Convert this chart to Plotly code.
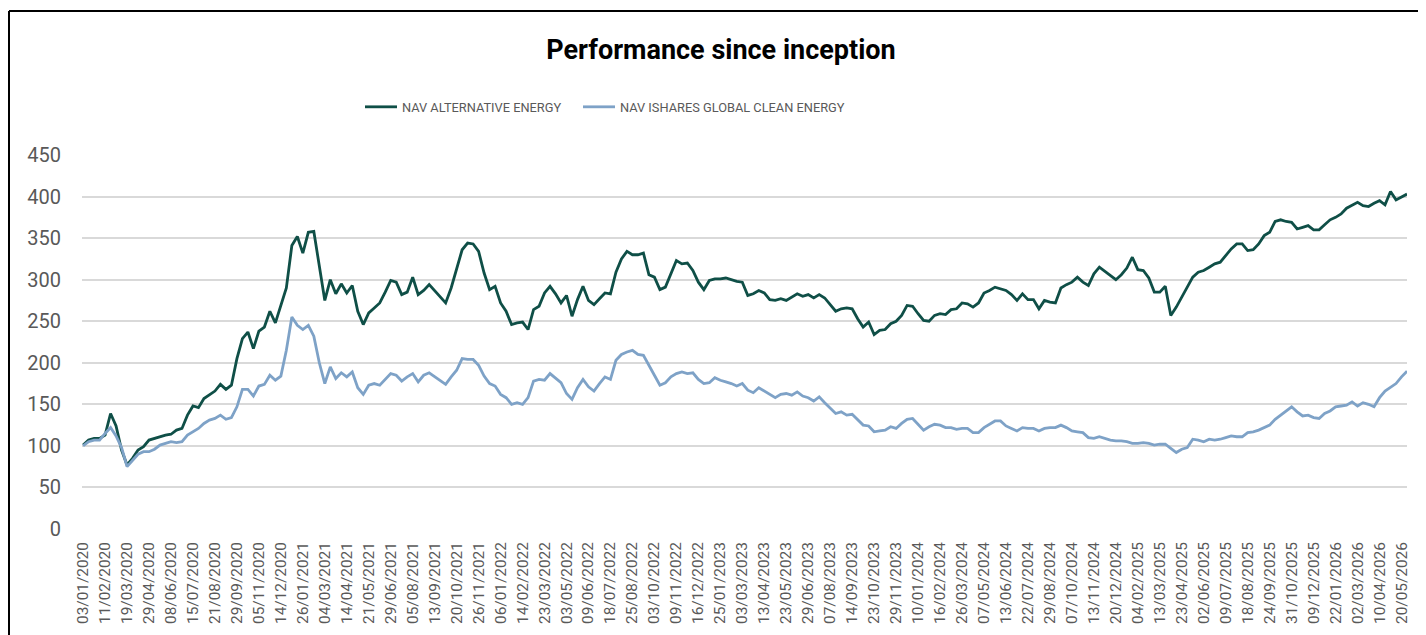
import plotly.graph_objects as go

# Observation dates (dd/mm/yyyy), roughly weekly-spaced sampling of the NAV series
dates = [
    "03/01/2020", "13/01/2020", "22/01/2020", "31/01/2020",
    "11/02/2020", "20/02/2020", "28/02/2020", "10/03/2020",
    "19/03/2020", "30/03/2020", "08/04/2020", "20/04/2020",
    "29/04/2020", "11/05/2020", "19/05/2020", "29/05/2020",
    "08/06/2020", "17/06/2020", "26/06/2020", "06/07/2020",
    "15/07/2020", "24/07/2020", "03/08/2020", "12/08/2020",
    "21/08/2020", "31/08/2020", "10/09/2020", "21/09/2020",
    "29/09/2020", "08/10/2020", "16/10/2020", "27/10/2020",
    "05/11/2020", "16/11/2020", "25/11/2020", "04/12/2020",
    "14/12/2020", "24/12/2020", "05/01/2021", "15/01/2021",
    "26/01/2021", "04/02/2021", "12/02/2021", "23/02/2021",
    "04/03/2021", "15/03/2021", "24/03/2021", "06/04/2021",
    "14/04/2021", "23/04/2021", "03/05/2021", "12/05/2021",
    "21/05/2021", "31/05/2021", "10/06/2021", "18/06/2021",
    "29/06/2021", "08/07/2021", "16/07/2021", "27/07/2021",
    "05/08/2021", "16/08/2021", "25/08/2021", "03/09/2021",
    "13/09/2021", "22/09/2021", "01/10/2021", "11/10/2021",
    "20/10/2021", "29/10/2021", "08/11/2021", "17/11/2021",
    "26/11/2021", "06/12/2021", "16/12/2021", "27/12/2021",
    "06/01/2022", "17/01/2022", "26/01/2022", "04/02/2022",
    "14/02/2022", "23/02/2022", "04/03/2022", "14/03/2022",
    "23/03/2022", "01/04/2022", "12/04/2022", "22/04/2022",
    "03/05/2022", "12/05/2022", "20/05/2022", "31/05/2022",
    "09/06/2022", "20/06/2022", "29/06/2022", "08/07/2022",
    "18/07/2022", "27/07/2022", "05/08/2022", "15/08/2022",
    "25/08/2022", "05/09/2022", "14/09/2022", "23/09/2022",
    "03/10/2022", "12/10/2022", "21/10/2022", "31/10/2022",
    "09/11/2022", "18/11/2022", "28/11/2022", "07/12/2022",
    "16/12/2022", "27/12/2022", "05/01/2023", "16/01/2023",
    "25/01/2023", "03/02/2023", "13/02/2023", "22/02/2023",
    "03/03/2023", "13/03/2023", "23/03/2023", "03/04/2023",
    "13/04/2023", "24/04/2023", "03/05/2023", "12/05/2023",
    "23/05/2023", "01/06/2023", "09/06/2023", "20/06/2023",
    "29/06/2023", "10/07/2023", "19/07/2023", "28/07/2023",
    "07/08/2023", "16/08/2023", "25/08/2023", "04/09/2023",
    "14/09/2023", "25/09/2023", "04/10/2023", "13/10/2023",
    "23/10/2023", "01/11/2023", "10/11/2023", "20/11/2023",
    "29/11/2023", "08/12/2023", "20/12/2023", "29/12/2023",
    "10/01/2024", "19/01/2024", "29/01/2024", "07/02/2024",
    "16/02/2024", "26/02/2024", "07/03/2024", "15/03/2024",
    "26/03/2024", "05/04/2024", "16/04/2024", "26/04/2024",
    "07/05/2024", "16/05/2024", "24/05/2024", "04/06/2024",
    "13/06/2024", "24/06/2024", "03/07/2024", "12/07/2024",
    "22/07/2024", "31/07/2024", "09/08/2024", "19/08/2024",
    "29/08/2024", "09/09/2024", "18/09/2024", "27/09/2024",
    "07/10/2024", "16/10/2024", "25/10/2024", "04/11/2024",
    "13/11/2024", "22/11/2024", "02/12/2024", "11/12/2024",
    "20/12/2024", "31/12/2024", "13/01/2025", "23/01/2025",
    "04/02/2025", "13/02/2025", "21/02/2025", "04/03/2025",
    "13/03/2025", "24/03/2025", "02/04/2025", "14/04/2025",
    "23/04/2025", "02/05/2025", "13/05/2025", "23/05/2025",
    "02/06/2025", "11/06/2025", "20/06/2025", "30/06/2025",
    "09/07/2025", "18/07/2025", "29/07/2025", "08/08/2025",
    "18/08/2025", "27/08/2025", "05/09/2025", "15/09/2025",
    "24/09/2025", "03/10/2025", "13/10/2025", "22/10/2025",
    "31/10/2025", "10/11/2025", "20/11/2025", "28/11/2025",
    "09/12/2025", "19/12/2025", "31/12/2025", "12/01/2026",
    "22/01/2026", "02/02/2026", "11/02/2026", "20/02/2026",
    "02/03/2026", "12/03/2026", "23/03/2026", "31/03/2026",
    "10/04/2026", "20/04/2026", "30/04/2026", "11/05/2026",
    "20/05/2026", "26/05/2026",
]

nav_alternative_energy = [
    101, 107, 109, 109, 113, 139, 124, 95, 77, 85,
    95, 99, 107, 109, 111, 113, 114, 119, 121, 137,
    148, 146, 157, 162, 166, 174, 168, 173, 205, 229,
    237, 217, 238, 243, 262, 248, 268, 290, 341, 352,
    332, 357, 358, 318, 275, 300, 283, 295, 284, 293,
    262, 246, 260, 266, 272, 285, 299, 297, 282, 285,
    303, 282, 287, 294, 287, 279, 272, 290, 313, 336,
    344, 343, 334, 308, 288, 292, 272, 262, 246, 248,
    249, 240, 264, 268, 284, 292, 283, 272, 281, 256,
    276, 292, 275, 270, 277, 284, 283, 309, 325, 334,
    330, 330, 332, 306, 303, 288, 291, 306, 323, 319,
    320, 311, 297, 288, 299, 301, 301, 302, 300, 298,
    297, 281, 283, 287, 284, 276, 275, 277, 275, 279,
    283, 280, 282, 278, 282, 278, 270, 262, 265, 266,
    265, 253, 243, 249, 234, 239, 240, 247, 250, 257,
    269, 268, 259, 251, 250, 257, 259, 258, 264, 265,
    272, 271, 267, 272, 284, 287, 291, 289, 287, 282,
    275, 283, 276, 276, 265, 275, 273, 272, 290, 294,
    297, 303, 297, 293, 307, 315, 310, 305, 300, 306,
    314, 327, 312, 311, 302, 285, 285, 292, 257, 267,
    279, 292, 303, 309, 311, 315, 319, 321, 329, 337,
    343, 343, 335, 336, 343, 353, 357, 370, 372, 370,
    369, 361, 363, 365, 360, 360, 366, 372, 375, 379,
    386, 390, 393, 389, 388, 392, 395, 390, 406, 396,
    400, 403,
]

nav_ishares_global_clean_energy = [
    100, 105, 107, 107, 115, 122, 112, 98, 75, 82,
    90, 93, 93, 96, 101, 103, 105, 104, 105, 113,
    117, 121, 127, 131, 133, 137, 132, 134, 147, 168,
    168, 160, 172, 174, 185, 179, 184, 215, 255, 245,
    240, 245, 232, 200, 175, 195, 181, 188, 183, 189,
    170, 162, 173, 175, 173, 180, 187, 185, 178, 183,
    187, 177, 185, 188, 183, 178, 174, 183, 191, 205,
    204, 204, 197, 184, 175, 172, 162, 158, 150, 152,
    150, 158, 178, 180, 179, 187, 182, 176, 163, 156,
    170, 180, 171, 166, 175, 183, 180, 203, 210, 213,
    215, 210, 209, 196, 185, 173, 176, 183, 187, 189,
    187, 188, 180, 175, 176, 182, 179, 177, 175, 172,
    175, 167, 164, 170, 166, 162, 158, 162, 163, 161,
    165, 160, 158, 154, 159, 152, 146, 139, 141, 137,
    138, 131, 125, 124, 117, 118, 119, 123, 121, 127,
    132, 133, 126, 119, 123, 126, 125, 122, 122, 120,
    121, 121, 116, 116, 122, 126, 130, 130, 124, 121,
    118, 122, 121, 121, 118, 121, 122, 122, 125, 122,
    118, 117, 116, 110, 109, 111, 109, 107, 106, 106,
    105, 103, 103, 104, 103, 101, 102, 102, 97, 92,
    96, 98, 108, 107, 105, 108, 107, 108, 110, 112,
    111, 111, 116, 117, 119, 122, 125, 132, 137, 141,
    147, 141, 136, 137, 134, 133, 139, 142, 147, 148,
    149, 153, 148, 152, 150, 147, 158, 166, 171, 175,
    183, 190,
]

tick_labels = [
    "03/01/2020", "11/02/2020", "19/03/2020", "29/04/2020", "08/06/2020",
    "15/07/2020", "21/08/2020", "29/09/2020", "05/11/2020", "14/12/2020",
    "26/01/2021", "04/03/2021", "14/04/2021", "21/05/2021", "29/06/2021",
    "05/08/2021", "13/09/2021", "20/10/2021", "26/11/2021", "06/01/2022",
    "14/02/2022", "23/03/2022", "03/05/2022", "09/06/2022", "18/07/2022",
    "25/08/2022", "03/10/2022", "09/11/2022", "16/12/2022", "25/01/2023",
    "03/03/2023", "13/04/2023", "23/05/2023", "29/06/2023", "07/08/2023",
    "14/09/2023", "23/10/2023", "29/11/2023", "10/01/2024", "16/02/2024",
    "26/03/2024", "07/05/2024", "13/06/2024", "22/07/2024", "29/08/2024",
    "07/10/2024", "13/11/2024", "20/12/2024", "04/02/2025", "13/03/2025",
    "23/04/2025", "02/06/2025", "09/07/2025", "18/08/2025", "24/09/2025",
    "31/10/2025", "09/12/2025", "22/01/2026", "02/03/2026", "10/04/2026",
    "20/05/2026",
]
y_ticks = [0, 50, 100, 150, 200, 250, 300, 350, 400, 450]

# The page body has an 8px default margin, so the figure is sized to fill the rest of the window.
W, H = 1418, 627
ML, MR, MT, MB = 74, 19, 147, 106
PW, PH = W - ML - MR, H - MT - MB


def px_to_paper_x(px):
    return (px - ML) / PW


def px_to_paper_y(py):
    return (H - MB - py) / PH


FONT = "Roboto, Arial, sans-serif"

fig = go.Figure()
fig.add_trace(go.Scatter(
    x=dates, y=nav_alternative_energy, mode="lines",
    name="NAV ALTERNATIVE ENERGY", legend="legend",
    line=dict(color="#0F4F47", width=2.8),
))
fig.add_trace(go.Scatter(
    x=dates, y=nav_ishares_global_clean_energy, mode="lines",
    name="NAV ISHARES GLOBAL CLEAN ENERGY", legend="legend2",
    line=dict(color="#7EA2C7", width=2.8),
))

legend_common = dict(
    orientation="h", xanchor="left", yanchor="middle",
    y=px_to_paper_y(99),
    font=dict(family=FONT, size=12.8, color="#595959"),
    bgcolor="rgba(0,0,0,0)", itemwidth=32,
)

fig.update_layout(
    width=W, height=H,
    margin=dict(l=ML, r=MR, t=MT, b=MB, pad=0),
    paper_bgcolor="white", plot_bgcolor="white",
    font=dict(family=FONT, color="#595959"),
    title=dict(
        text="<b>Performance since inception</b>",
        font=dict(family=FONT, size=27, color="#000000"),
        x=713 / W, xref="container", xanchor="center",
        y=1 - 42 / H, yref="container", yanchor="middle",
    ),
    showlegend=True,
    legend=dict(x=px_to_paper_x(352), **legend_common),
    legend2=dict(x=px_to_paper_x(570), **legend_common),
    xaxis=dict(
        type="category",
        range=[-0.2, len(dates) - 1],
        tickmode="array", tickvals=tick_labels, ticktext=tick_labels,
        tickangle=-90,
        tickfont=dict(family=FONT, size=15.4, color="#595959"),
        showgrid=False, zeroline=False, showline=False, ticks="",
        ticklabelstandoff=9,
    ),
    yaxis=dict(
        range=[0, 450],
        tickmode="array", tickvals=y_ticks,
        tickfont=dict(family=FONT, size=20, color="#595959"),
        showgrid=True, gridcolor="#D9D9D9", gridwidth=1.6,
        zeroline=False, showline=False, ticks="",
        ticklabelstandoff=20,
    ),
    shapes=[
        dict(type="line", xref="paper", yref="paper",
             x0=px_to_paper_x(1), x1=px_to_paper_x(1),
             y0=px_to_paper_y(3), y1=px_to_paper_y(H + 10),
             line=dict(color="#000000", width=2)),
        dict(type="line", xref="paper", yref="paper",
             x0=px_to_paper_x(1), x1=px_to_paper_x(W + 10),
             y0=px_to_paper_y(3), y1=px_to_paper_y(3),
             line=dict(color="#000000", width=2)),
    ],
    hovermode="x unified",
)

fig.write_html("out.html")
